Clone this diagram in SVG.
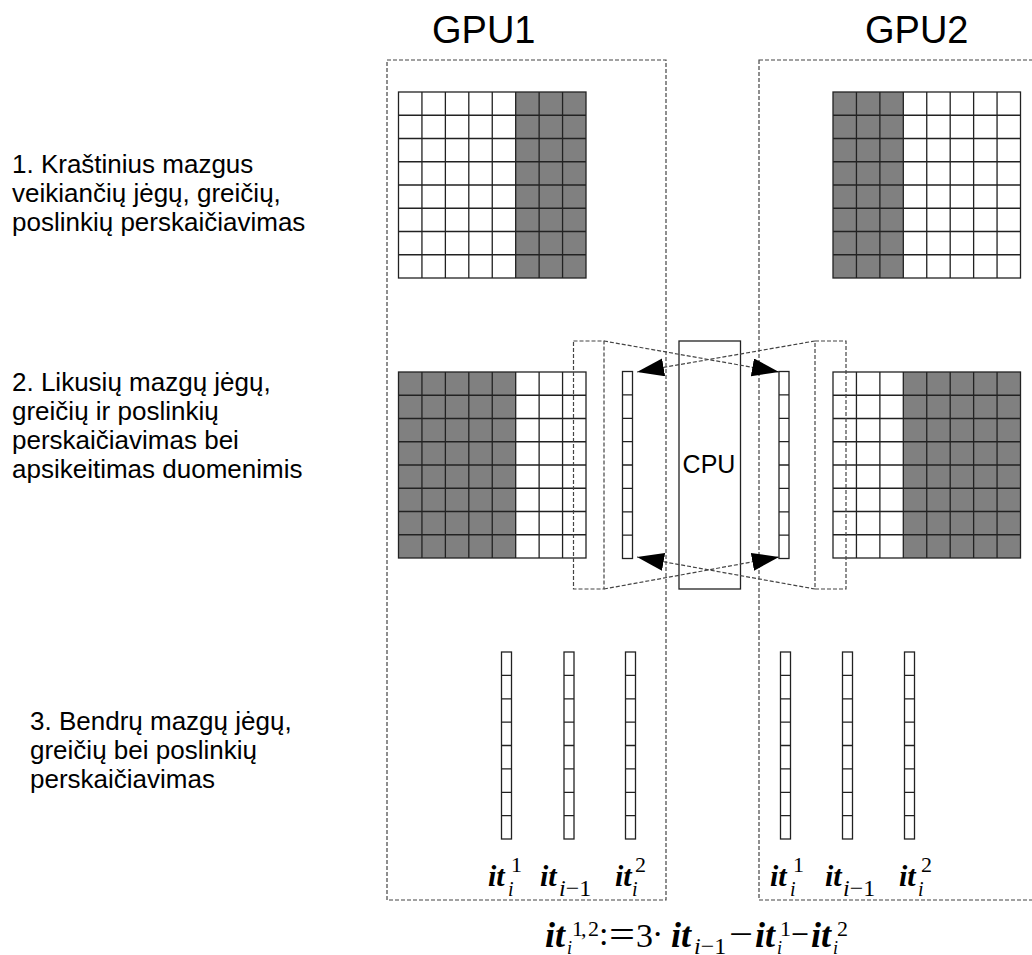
<svg xmlns="http://www.w3.org/2000/svg" xmlns:xlink="http://www.w3.org/1999/xlink" width="1032" height="955" viewBox="0 0 1032 955">
<style>
.dash{fill:none;stroke:#444;stroke-width:1.2;stroke-dasharray:4,2}
.gl{fill:none;stroke:#222;stroke-width:1.3}
.sh{fill:#808080}
.lbl{font-family:"Liberation Sans",Arial,sans-serif;font-size:26px;fill:#000}
.ttl{font-family:"Liberation Sans",Arial,sans-serif;font-size:38px;fill:#000}
.m{font-family:"Liberation Serif","Times New Roman",serif;font-style:italic;fill:#000}
.b{font-weight:bold}
.n{font-family:"Liberation Serif","Times New Roman",serif;font-style:normal;fill:#000}
.conn{fill:none;stroke:#444;stroke-width:1.2;stroke-dasharray:4,2}
</style>
<defs>
<g id="grid">
<rect x="0" y="0" width="187.5" height="186" class="gl"/>
<path class="gl" d="M23.44,0V186M46.88,0V186M70.31,0V186M93.75,0V186M117.19,0V186M140.63,0V186M164.06,0V186M0,23.25H187.5M0,46.5H187.5M0,69.75H187.5M0,93H187.5M0,116.25H187.5M0,139.5H187.5M0,162.75H187.5"/>
</g>
<g id="col">
<rect x="0" y="0" width="10" height="187" fill="#fff" class="gl"/>
<path class="gl" d="M0,23.4H10M0,46.8H10M0,70.1H10M0,93.5H10M0,116.9H10M0,140.3H10M0,163.6H10"/>
</g>
<marker id="ah" markerUnits="userSpaceOnUse" markerWidth="28" markerHeight="19" refX="27" refY="9" orient="auto" viewBox="0 0 28 19">
<path d="M0,0L27,9L0,18z" fill="#000"/>
</marker>
</defs>
<rect x="0" y="0" width="1032" height="955" fill="#fff"/>

<g id="titles">
<text class="ttl" x="432" y="43">GPU1</text>
<text class="ttl" x="865" y="43">GPU2</text>
</g>

<g id="steps">
<text class="lbl" x="12" y="173">1. Kraštinius mazgus</text>
<text class="lbl" x="12" y="202">veikiančių jėgų, greičių,</text>
<text class="lbl" x="12" y="231">poslinkių perskaičiavimas</text>
<text class="lbl" x="12" y="391">2. Likusių mazgų jėgų,</text>
<text class="lbl" x="12" y="420">greičių ir poslinkių</text>
<text class="lbl" x="12" y="449">perskaičiavimas bei</text>
<text class="lbl" x="12" y="478">apsikeitimas duomenimis</text>
<text class="lbl" x="30" y="730">3. Bendrų mazgų jėgų,</text>
<text class="lbl" x="30" y="759">greičių bei poslinkių</text>
<text class="lbl" x="30" y="788">perskaičiavimas</text>
</g>

<g id="gpu1">
<rect class="dash" x="387" y="60" width="279" height="840"/>
</g>
<g id="gpu2">
<rect class="dash" x="759" y="60" width="290" height="840"/>
</g>

<g id="gpu1-step1">
<rect class="sh" x="515.5" y="92" width="70.5" height="186"/>
<use xlink:href="#grid" x="398.5" y="92"/>
</g>
<g id="gpu2-step1">
<rect class="sh" x="833" y="92" width="70.3" height="186"/>
<use xlink:href="#grid" x="833" y="92"/>
</g>
<g id="gpu1-step2">
<rect class="sh" x="398.5" y="372" width="117.2" height="186"/>
<use xlink:href="#grid" x="398.5" y="372"/>
</g>
<g id="gpu2-step2">
<rect class="sh" x="903.3" y="372" width="117.2" height="186"/>
<use xlink:href="#grid" x="833" y="372"/>
</g>

<g id="halo-left">
<rect class="dash" x="573.5" y="341" width="30.5" height="248"/>
</g>
<g id="halo-right">
<rect class="dash" x="815" y="341" width="31" height="248"/>
</g>

<g id="buf-left"><use xlink:href="#col" x="622.5" y="371.5"/></g>
<g id="buf-right"><use xlink:href="#col" x="779" y="371.5"/></g>

<g id="cpu">
<rect x="679" y="341" width="61.5" height="248" fill="none" stroke="#222" stroke-width="1.3"/>
<text x="709" y="473" text-anchor="middle" font-family="'Liberation Sans',Arial,sans-serif" font-size="25">CPU</text>
</g>

<g id="connectors">
<path class="conn" d="M604,341L779,372" marker-end="url(#ah)"/>
<path class="conn" d="M815,341L637,372" marker-end="url(#ah)"/>
<path class="conn" d="M604,589L779,557" marker-end="url(#ah)"/>
<path class="conn" d="M815,589L637,557" marker-end="url(#ah)"/>
</g>

<g id="step3-cols">
<use xlink:href="#col" x="501.5" y="652"/>
<use xlink:href="#col" x="564" y="652"/>
<use xlink:href="#col" x="625.5" y="652"/>
<use xlink:href="#col" x="780.5" y="652"/>
<use xlink:href="#col" x="842.5" y="652"/>
<use xlink:href="#col" x="904.5" y="652"/>
</g>

<g id="col-labels">
<text class="m b" font-size="30" x="488" y="886">it</text>
<text class="n" font-size="22" x="511" y="872">1</text>
<text class="m" font-size="20" x="508" y="896">i</text>

<text class="m b" font-size="30" x="540" y="886">it</text>
<text font-size="24" x="559" y="896"><tspan class="m">i</tspan><tspan class="n">−1</tspan></text>

<text class="m b" font-size="30" x="615" y="886">it</text>
<text class="n" font-size="22" x="635" y="872">2</text>
<text class="m" font-size="20" x="632" y="896">i</text>

<text class="m b" font-size="30" x="770" y="886">it</text>
<text class="n" font-size="22" x="793" y="872">1</text>
<text class="m" font-size="20" x="790" y="896">i</text>

<text class="m b" font-size="30" x="825" y="886">it</text>
<text font-size="24" x="843" y="896"><tspan class="m">i</tspan><tspan class="n">−1</tspan></text>

<text class="m b" font-size="30" x="899" y="886">it</text>
<text class="n" font-size="22" x="921" y="872">2</text>
<text class="m" font-size="20" x="918" y="896">i</text>
</g>

<g id="formula">
<text class="m b" font-size="36" x="545" y="947">it</text>
<text class="n" font-size="22" x="572" y="936" textLength="27">1, 2</text>
<text class="m" font-size="18" x="567" y="954">i</text>
<text class="n" font-size="34" x="599" y="945">:</text>
<text class="n" font-size="38" x="609" y="947" textLength="26" lengthAdjust="spacingAndGlyphs">=</text>
<text class="n" font-size="34" x="636" y="947">3</text>
<text class="n" font-size="34" x="652" y="945">·</text>
<text class="m b" font-size="36" x="671" y="947">it</text>
<text font-size="24" x="694" y="954"><tspan class="m">i</tspan><tspan class="n">−1</tspan></text>
<text class="n" font-size="38" x="729" y="947" textLength="24" lengthAdjust="spacingAndGlyphs">−</text>
<text class="m b" font-size="36" x="755" y="947">it</text>
<text class="n" font-size="22" x="780" y="936">1</text>
<text class="m" font-size="18" x="777" y="954">i</text>
<text class="n" font-size="38" x="791" y="947" textLength="18" lengthAdjust="spacingAndGlyphs">−</text>
<text class="m b" font-size="36" x="811" y="947">it</text>
<text class="n" font-size="22" x="837" y="936">2</text>
<text class="m" font-size="18" x="833" y="954">i</text>
</g>
</svg>
